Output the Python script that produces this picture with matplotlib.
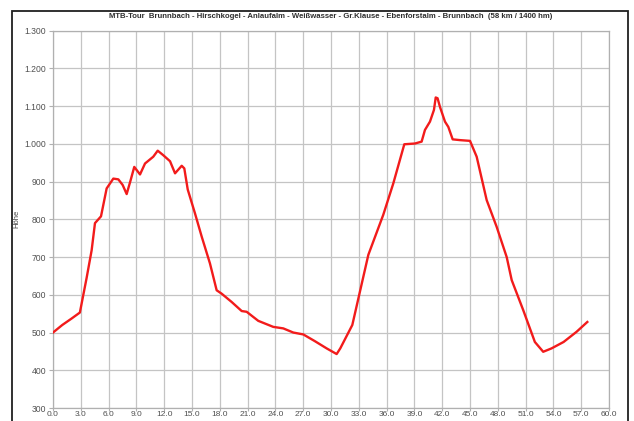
import matplotlib
matplotlib.use("Agg")
import matplotlib.pyplot as plt
from matplotlib.patches import Rectangle
from matplotlib.ticker import FuncFormatter, MultipleLocator

plt.rcParams['font.family'] = ['Liberation Sans', 'DejaVu Sans']

# distance (km) / elevation (m)
km = [0.0, 1.0, 2.0, 2.9, 3.63, 4.17, 4.53, 5.18, 5.79, 6.51, 7.05, 7.52, 7.95,
      8.38, 8.77, 9.39, 9.93, 10.82, 11.30, 11.90, 12.63, 13.17, 13.89, 14.17,
      14.54, 15.32, 16.05, 16.94, 17.66, 18.2, 19.28, 20.36, 20.9, 22.15, 23.77,
      24.85, 25.93, 27.01, 28.27, 29.53, 30.61, 31.0, 32.3, 34.03, 35.64, 36.72,
      37.91, 39.06, 39.78, 40.14, 40.68, 41.11, 41.3, 41.5, 41.76, 42.3, 42.66,
      43.13, 43.92, 45.0, 45.72, 46.8, 47.88, 48.96, 49.5, 50.75, 52.0, 52.9,
      53.8, 55.1, 56.5, 57.66]
hoehe = [500, 520, 537, 553, 645, 718, 790, 808, 882, 908, 906, 891, 867,
         904, 939, 919, 948, 966, 982, 970, 954, 922, 942, 935,
         879, 816, 754, 683, 612, 603, 581, 557, 555, 531, 515,
         511, 500, 495, 477, 458, 443, 458, 520, 706, 812, 895,
         999, 1001, 1006, 1037, 1059, 1090, 1123, 1121, 1098, 1059, 1045,
         1012, 1010, 1008, 966, 851, 780, 700, 639, 559, 475, 449,
         458, 475, 502, 528]

title = ("MTB-Tour  Brunnbach - Hirschkogel - Anlaufalm - Weißwasser - Gr.Klause - "
         "Ebenforstalm - Brunnbach  (58 km / 1400 hm)")

fig = plt.figure(figsize=(6.34, 4.21), dpi=100)
ax = fig.add_axes([53 / 634, 13 / 421, 556 / 634, 377.3 / 421])

ax.plot(km, hoehe, color='#f21b1b', lw=1.7, zorder=3)

ax.set_xlim(0, 60)
ax.set_ylim(300, 1300)
ax.xaxis.set_major_locator(MultipleLocator(3))
ax.yaxis.set_major_locator(MultipleLocator(100))
ax.xaxis.set_major_formatter(FuncFormatter(lambda v, p: f"{v:.1f}"))
ax.yaxis.set_major_formatter(FuncFormatter(lambda v, p: f"{v:,.0f}".replace(',', '.')))
ax.grid(True, color='#c4c4c4', lw=0.9)
ax.set_axisbelow(True)
for s in ax.spines.values():
    s.set_color('#b0b0b0')
    s.set_linewidth(0.9)
ax.tick_params(colors='#b0b0b0', labelcolor='#505050', labelsize=6.2,
               length=3, width=0.8, pad=2)
ax.tick_params(axis='x', length=2, pad=0.5, labelsize=6)
ax.set_ylabel("Höhe", fontsize=5.5, color='#404040')
ax.yaxis.set_label_coords(-0.058, 0.5)

fig.text(331 / 634, 1 - 16 / 421, title, ha='center', va='center',
         fontsize=5.6, fontweight='bold', color='#303030')

# outer frame
fig.patches.append(Rectangle((12 / 634, -0.05), 616 / 634, 1 - 11 / 421 + 0.05,
                             transform=fig.transFigure, fill=False,
                             edgecolor='#202020', lw=1.3))

fig.savefig("out.png", dpi=100)
